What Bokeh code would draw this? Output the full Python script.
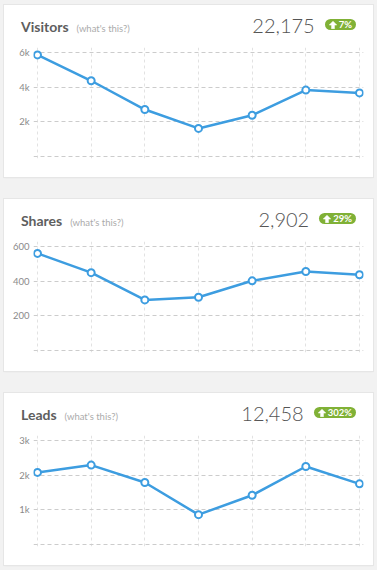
from bokeh.plotting import figure
from bokeh.layouts import column
from bokeh.models import Range1d, FixedTicker, Div
from bokeh.embed import file_html
from bokeh.resources import INLINE

# ---- data ----
x_points = [0, 1, 2, 3, 4, 5, 6]
titles = ["Visitors", "Shares", "Leads"]
totals = ["22,175", "2,902", "12,458"]
changes = ["7%", "29%", "302%"]
visitors = [5860, 4370, 2710, 1620, 2380, 3830, 3670]
shares = [560, 449, 292, 307, 402, 456, 437]
leads = [2080, 2290, 1790, 860, 1420, 2250, 1750]
series = [visitors, shares, leads]
y_tops = [6000, 600, 3000]
y_ticks = [[0, 2000, 4000, 6000], [0, 200, 400, 600], [0, 1000, 2000, 3000]]
y_tick_labels = [["", "2k", "4k", "6k"], ["", "200", "400", "600"], ["", "1k", "2k", "3k"]]

# ---- layout constants (pixels) ----
CW, CH = 369, 172          # card size
HH = 36                    # header height
FH = CH - HH               # figure height
NL, NR, NT, NB = 33, 355, 11, 115   # nominal frame edges inside figure
PX, PT, PB = 4, 5, 2                # padding so edge markers are not clipped

BLUE = "#3d9de0"
FONT = "Lato"

ARROW_SVG = ('<svg width="8" height="8" viewBox="0 0 8 8" style="margin-right:2px;vertical-align:-0.5px">'
             '<path d="M4 0.3 L7.7 4 L5.4 4 L5.4 7.8 L2.6 7.8 L2.6 4 L0.3 4 Z" fill="white" '
             'stroke="white" stroke-width="0.6" stroke-linejoin="round"/></svg>')


def header_html(title, total, change):
    return (
        f'<div style="position:relative;width:{CW}px;height:{HH}px;font-family:Lato,sans-serif;">'
        f'<div style="position:absolute;left:17px;top:15px;display:flex;align-items:baseline;line-height:14px;white-space:nowrap;">'
        f'<span style="font-size:14px;font-weight:700;color:#5e5e5e;">{title}</span>'
        f'<span style="font-size:9.5px;color:#ababab;margin-left:8px;">(what\'s this?)</span>'
        f'</div>'
        f'<div style="position:absolute;right:17px;top:10px;display:flex;align-items:baseline;line-height:20px;white-space:nowrap;">'
        f'<span style="font-size:20px;font-weight:300;color:#555555;">{total}</span>'
        f'<span style="position:relative;top:-5px;margin-left:10px;display:inline-block;'
        f'background:#80b136;color:white;font-size:9.5px;font-weight:700;line-height:11px;'
        f'padding:0 4px;border-radius:6px;">{ARROW_SVG}{change}</span>'
        f'</div></div>'
    )


cards = []
for i in range(3):
    top = y_tops[i]
    xs_per_px = 6 / (NR - NL)
    ys_per_px = top / (NB - NT)
    p = figure(width=CW, height=FH, output_backend="svg", toolbar_location=None,
               x_axis_location=None,
               x_range=Range1d(-PX * xs_per_px, 6 + PX * xs_per_px),
               y_range=Range1d(-PB * ys_per_px, top + PT * ys_per_px),
               min_border_left=NL - PX, min_border_right=CW - NR - PX,
               min_border_top=NT - PT, min_border_bottom=FH - NB - PB,
               background_fill_color="white", border_fill_color="white",
               outline_line_color=None)
    p.yaxis.ticker = FixedTicker(ticks=y_ticks[i])
    p.yaxis.major_label_overrides = dict(zip(y_ticks[i], y_tick_labels[i]))
    p.yaxis.axis_line_color = None
    p.yaxis.major_tick_line_color = None
    p.yaxis.minor_tick_line_color = None
    p.yaxis.major_tick_out = 0
    p.yaxis.major_label_standoff = 4
    p.yaxis.major_label_text_font = FONT
    p.yaxis.major_label_text_font_size = "9.5px"
    p.yaxis.major_label_text_color = "#8a8a8a"

    p.ygrid.ticker = FixedTicker(ticks=y_ticks[i])
    p.ygrid.grid_line_color = "#cccccc"
    p.ygrid.grid_line_dash = "4 3"
    p.xgrid.ticker = FixedTicker(ticks=x_points)
    p.xgrid.grid_line_color = "#e2e2e2"
    p.xgrid.grid_line_dash = "3 3"

    p.line(x_points, series[i], line_color=BLUE, line_width=2.5)
    p.scatter(x_points, series[i], size=7, fill_color="white",
              line_color=BLUE, line_width=2)

    head = Div(text=header_html(titles[i], totals[i], changes[i]),
               width=CW, height=HH, margin=0,
               styles={"background-color": "white"})
    card = column(head, p, spacing=0, width=CW, height=CH,
                  styles={"background-color": "white",
                          "box-shadow": "0 0 0 1px #e6e6e6, 0 1px 2px rgba(0,0,0,0.05)"})
    cards.append(card)

layout = column(*cards, spacing=22, margin=(5, 4, 4, 4),
                styles={"background-color": "#f2f2f2",
                        "box-shadow": "0 0 0 40px #f2f2f2"})

open("out.html", "w").write(file_html(layout, INLINE))
